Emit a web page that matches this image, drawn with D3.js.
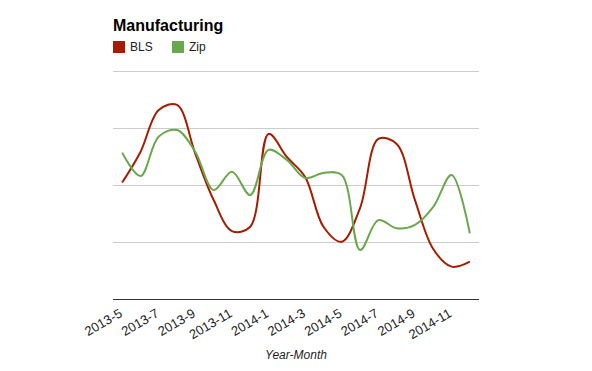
<!DOCTYPE html>
<html>
<head>
<meta charset="utf-8">
<script src="https://cdn.jsdelivr.net/npm/d3@7"></script>
<style>
  body { margin: 0; background: #fff; }
  text { font-family: Arial, "Liberation Sans", sans-serif; }
</style>
</head>
<body>
<svg id="chart" width="592" height="371"></svg>
<script>
let width = 592,
  height = 371

let months = ["2013-5", "2013-6", "2013-7", "2013-8", "2013-9", "2013-10", "2013-11", "2013-12",
  "2014-1", "2014-2", "2014-3", "2014-4", "2014-5", "2014-6", "2014-7", "2014-8",
  "2014-9", "2014-10", "2014-11", "2014-12"]
let bls = [51.1, 64.5, 82.9, 85.1, 63.6, 43.4, 29.8, 31.7, 72.4, 62.3,
  53.5, 31.7, 25.1, 39.9, 70.2, 68.0, 43.4, 21.9, 14.2, 16.4]
let zip = [64.2, 53.9, 71.3, 74.1, 64.5, 47.8, 55.8, 45.6, 65.4, 61.0,
  53.1, 55.3, 54.4, 21.5, 34.6, 31.0, 32.5, 40.4, 54.4, 28.8]
let gridValues = [0, 25, 50, 75, 100]
let series = [
  {name: "BLS", values: bls, color: "#a61c00"},
  {name: "Zip", values: zip, color: "#6aa84f"}
]

let margin = {top: 71, right: 113, bottom: 72, left: 113}
let svg = d3.select("#chart")

let scales = {
  x: d3.scaleBand()
    .domain(months)
    .range([margin.left, width - margin.right]),
  y: d3.scaleLinear()
    .domain([0, 100])
    .range([height - margin.bottom, margin.top])
}
let xc = d => scales.x(d) + scales.x.bandwidth() / 2

// gridlines
svg.append("g")
  .selectAll("line")
  .data(gridValues.slice(1)).enter()
  .append("line")
  .attr("x1", margin.left)
  .attr("x2", width - margin.right)
  .attr("y1", d => Math.round(scales.y(d)) + 0.5)
  .attr("y2", d => Math.round(scales.y(d)) + 0.5)
  .attr("stroke", "#cccccc")

// lines
let line_generator = d3.line()
  .x((d, i) => xc(months[i]))
  .y(d => scales.y(d))
  .curve(d3.curveCatmullRom.alpha(0.5))

svg.append("g")
  .selectAll("path")
  .data(series).enter()
  .append("path")
  .attr("d", d => line_generator(d.values))
  .attr("fill", "none")
  .attr("stroke", d => d.color)
  .attr("stroke-width", 2)

// baseline
svg.append("line")
  .attr("x1", margin.left)
  .attr("x2", width - margin.right)
  .attr("y1", Math.round(scales.y(0)) + 0.5)
  .attr("y2", Math.round(scales.y(0)) + 0.5)
  .attr("stroke", "#333333")

// x labels, every second month, slanted
svg.append("g")
  .selectAll("text")
  .data(months.filter((d, i) => i % 2 == 0)).enter()
  .append("text")
  .attr("transform", d => `translate(${xc(d) + 1}, ${height - margin.bottom + 17}) rotate(-30)`)
  .attr("text-anchor", "end")
  .attr("font-size", 13)
  .attr("fill", "#222222")
  .text(d => d)

// axis title
svg.append("text")
  .attr("x", (margin.left + width - margin.right) / 2)
  .attr("y", 359)
  .attr("text-anchor", "middle")
  .attr("font-size", 12)
  .attr("font-style", "italic")
  .attr("fill", "#222222")
  .text("Year-Month")

// title
svg.append("text")
  .attr("x", margin.left)
  .attr("y", 31)
  .attr("font-size", 16)
  .attr("font-weight", "bold")
  .attr("fill", "#000000")
  .text("Manufacturing")

// legend
let legend = svg.append("g")
  .selectAll("g")
  .data(series).enter()
  .append("g")
  .attr("transform", (d, i) => `translate(${margin.left + i * 59}, 41)`)
legend.append("rect")
  .attr("width", 12)
  .attr("height", 12)
  .attr("fill", d => d.color)
legend.append("text")
  .attr("x", 17)
  .attr("y", 10)
  .attr("font-size", 12)
  .attr("fill", "#222222")
  .text(d => d.name)
</script>
</body>
</html>
